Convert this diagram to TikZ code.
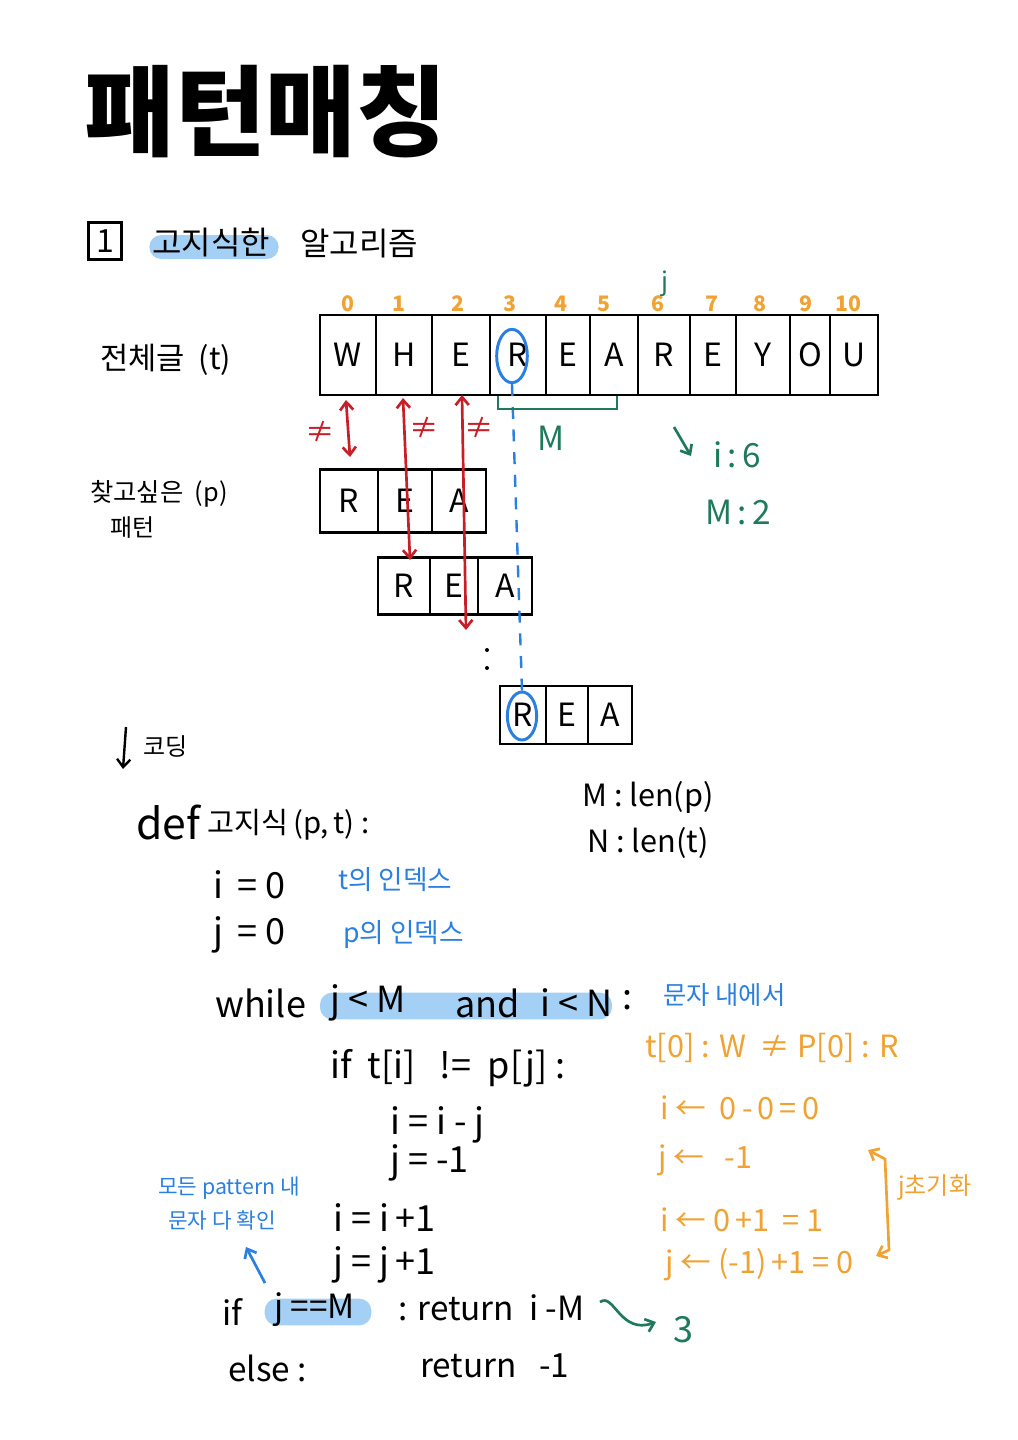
\documentclass[tikz,border=0pt]{standalone}
\usepackage{fontspec}
\setmainfont{Noto Sans CJK KR}
\usetikzlibrary{arrows.meta,shapes.geometric}
\definecolor{hlblue}{HTML}{A5D0F5}
\definecolor{penblue}{HTML}{2A7FE0}
\definecolor{pengreen}{HTML}{1F7A5C}
\definecolor{penorange}{HTML}{F0A232}
\definecolor{penred}{HTML}{C81E28}
\newcommand\fsz[1]{\fontsize{#1pt}{#1pt}\selectfont}
\begin{document}
\begin{tikzpicture}[x=0.75pt,y=-0.75pt,
  >={Straight Barb[length=6pt,width=10pt]},
  txt/.style={inner sep=0pt, anchor=west},
  cell/.style={draw, line width=2.2pt, inner sep=0pt, font=\fsz{24}},
  idx/.style={inner sep=0pt, text=penorange, font=\fsz{16}\bfseries},
  code/.style={txt, font=\fsz{27}},
  scode/.style={txt, font=\fsz{25}},
  note/.style={txt, text=penorange, font=\fsz{23}},
  bnote/.style={txt, text=penblue, font=\fsz{19}},
  hlbar/.style={fill=hlblue, rounded corners=9pt, inner sep=0pt},
  redarr/.style={<->, penred, line width=2pt},
  ring/.style={draw=penblue, line width=2.2pt, ellipse, inner sep=0pt}]
\useasboundingbox[fill=white] (0,0) rectangle (1018,1440);

% title
\node[txt, font=\fsz{74}\bfseries] (title) at (84,112) {패턴매칭};

% section heading
\node[draw, line width=2pt, minimum width=25pt, minimum height=28pt, inner sep=0pt, font=\fsz{24}] (secno) at (105,241) {1};
\node[hlbar, minimum width=97pt, minimum height=18pt] (hl1) at (214,247) {};
\node[txt, font=\fsz{24}] (sec1) at (152,243) {고지식한};
\node[txt, font=\fsz{24}] (sec2) at (300,244) {알고리즘};

% text row
\foreach \l/\r/\c [count=\k from 0] in {320/376/W,376/432/H,432/490/E,490/546/R,546/590/E,590/638/A,638/690/R,690/736/E,736/790/Y,790/830/O,830/878/U}
  \node[cell, minimum width={(\r-\l)*0.75pt}, minimum height=60pt] (t\k) at ({(\l+\r)/2},355) {\c};
\foreach \x/\n [count=\k from 0] in {348/0,399/1,458/2,510/3,561/4,604/5,658/6,712/7,760/8,806/9,848/10}
  \node[idx] (i\k) at (\x,304) {\n};
\node[inner sep=0pt, text=pengreen, font=\fsz{19}] (jmark) at (665,284) {j};

\node[txt, font=\fsz{23}] (lblt) at (100,360) {전체글\ \ (t)};
\node[txt, font=\fsz{19}] (lblp) at (90,494) {찾고싶은\ \ (p)};
\node[txt, font=\fsz{18}] (lblp2) at (110,528) {패턴};

% pattern rows
\foreach \l/\r/\c [count=\k from 0] in {320/378/R,378/432/E,432/486/A}
  \node[cell, minimum width={(\r-\l)*0.75pt}, minimum height=47pt] (pa\k) at ({(\l+\r)/2},501) {\c};
\foreach \l/\r/\c [count=\k from 0] in {378/430/R,430/478/E,478/532/A}
  \node[cell, minimum width={(\r-\l)*0.75pt}, minimum height=43pt] (pb\k) at ({(\l+\r)/2},586) {\c};
\foreach \l/\r/\c [count=\k from 0] in {500/546/R,546/588/E,588/632/A}
  \node[cell, minimum width={(\r-\l)*0.75pt}, minimum height=43.5pt] (pc\k) at ({(\l+\r)/2},715) {\c};

% blue rings and dashed line
\node[ring, minimum width=23pt, minimum height=40pt] (ring1) at (512,356) {};
\node[ring, minimum width=22pt, minimum height=36pt] (ring2) at (522,716) {};
\draw[penblue, line width=1.8pt, dash pattern=on 9pt off 8pt] (ring1.south) -- (ring2.north);

% red arrows
\coordinate (r1a) at (346,400); \coordinate (r1b) at (350,457);
\coordinate (r2a) at (403,398); \coordinate (r2b) at (410,560);
\coordinate (r3a) at (462,395); \coordinate (r3b) at (466,630);
\draw[redarr] (r1a) -- (r1b);
\draw[redarr] (r2a) -- (r2b);
\draw[redarr] (r3a) -- (r3b);
\node[inner sep=0pt, text=penred, font=\fsz{22}] (ne1) at (320,432) {≠};
\node[inner sep=0pt, text=penred, font=\fsz{22}] (ne2) at (424,428) {≠};
\node[inner sep=0pt, text=penred, font=\fsz{22}] (ne3) at (479,428) {≠};

% dots
\fill (487,650) circle (1.5pt);
\fill (487,668) circle (1.5pt);

% green bracket, M, i:6
\draw[pengreen, line width=2.2pt] (498,396) -- (498,409) -- (617,409) -- (617,396);
\node[inner sep=0pt, text=pengreen, font=\fsz{25}] (gM) at (551,438) {M};
\coordinate (ga) at (674,427); \coordinate (gb) at (691,456);
\draw[->, pengreen, line width=2pt] (ga) -- (gb);
\node[txt, text=pengreen, font=\fsz{25}] (gi) at (713,455) {i\,:\,6};
\node[txt, text=pengreen, font=\fsz{25}] (gm2) at (705,512) {M\,:\,2};

% coding arrow
\coordinate (ca) at (126,727); \coordinate (cb) at (123,769);
\draw[->, line width=1.8pt] (ca) -- (cb);
\node[txt, font=\fsz{18}] (coding) at (143,746) {코딩};

% code
\node[txt, font=\fsz{32}] (def) at (136,823) {def};
\node[txt, font=\fsz{22}] (defn) at (207,825) {고지식\,(p,\,t)\ :};
\node[txt, font=\fsz{23}] (mlen) at (582,797) {M : len(p)};
\node[txt, font=\fsz{23}] (nlen) at (587,843) {N : len(t)};

\node[code] (c1) at (213,885) {i\, = 0};
\node[bnote, font=\fsz{20}] (b1) at (338,880) {t의 인덱스};
\node[code] (c2) at (213,935) {j\, = 0};
\node[bnote, font=\fsz{20}] (b2) at (343,935) {p의 인덱스};

\node[hlbar, minimum width=219pt, minimum height=20pt] (hl2) at (466,1006) {};
\node[code] (w0) at (215,1003) {while};
\node[code] (w1) at (330,1003) {j < M};
\node[code] (w2) at (455,1003) {and};
\node[code] (w3) at (540,1003) {i < N};
\node[code] (w4) at (622,1000) {:};
\node[bnote] (b3) at (663,995) {문자 내에서};

\node[code] (c3) at (330,1068) {if\ \ t[i]\ \ \ != \ p[j]\ :};
\node[code] (c4) at (390,1125) {i = i - j};
\node[code] (c5) at (390,1163) {j =\ -1};
\node[code] (c6) at (333,1218) {i = i\,+1};
\node[code] (c7) at (333,1265) {j = j\,+1};

\node[hlbar, minimum width=80pt, minimum height=20pt] (hl3) at (318,1312) {};
\node[scode] (c8) at (222,1312) {if};
\node[scode] (c9) at (274,1310) {j ==M};
\node[scode] (c10) at (398,1308) {: return\ \ i -M};
\node[scode] (c11) at (228,1368) {else :};
\node[scode] (c12) at (420,1366) {return\ \ \ -1};

% orange notes
\node[note] (o1) at (645,1048) {t[0] : W\ \ ≠\ P[0] : R};
\node[note] (o2) at (660,1108) {i ←\ \ 0\,-\,0\,=\,0};
\node[note] (o3) at (658,1160) {j ←\ \ \ -1};
\node[note] (o4) at (660,1220) {i ← 0\,+1\ \ =\ 1};
\node[note] (o5) at (665,1265) {j ← (-1)\,+1\ =\ 0};
\coordinate (ob1) at (868,1150); \coordinate (ob2) at (876,1256);
\draw[<->, penorange, line width=2pt] (ob1) -- (885,1159) -- (889,1250) -- (ob2);
\node[txt, text=penorange, font=\fsz{18}] (o6) at (898,1187) {j초기화};

% blue notes bottom left
\node[bnote, font=\fsz{16}] (b4) at (158,1188) {모든 pattern 내};
\node[bnote, font=\fsz{16}] (b5) at (168,1220) {문자 다 확인};
\coordinate (ba) at (265,1283); \coordinate (bb) at (246,1247);
\draw[->, penblue, line width=2pt] (ba) -- (bb);

% green result
\coordinate (ra) at (600,1302); \coordinate (rb) at (656,1322);
\draw[->, pengreen, line width=2pt] (ra) .. controls (614,1292) and (620,1335) .. (rb);
\node[txt, text=pengreen, font=\fsz{27}] (res) at (673,1330) {3};
\end{tikzpicture}
\end{document}
